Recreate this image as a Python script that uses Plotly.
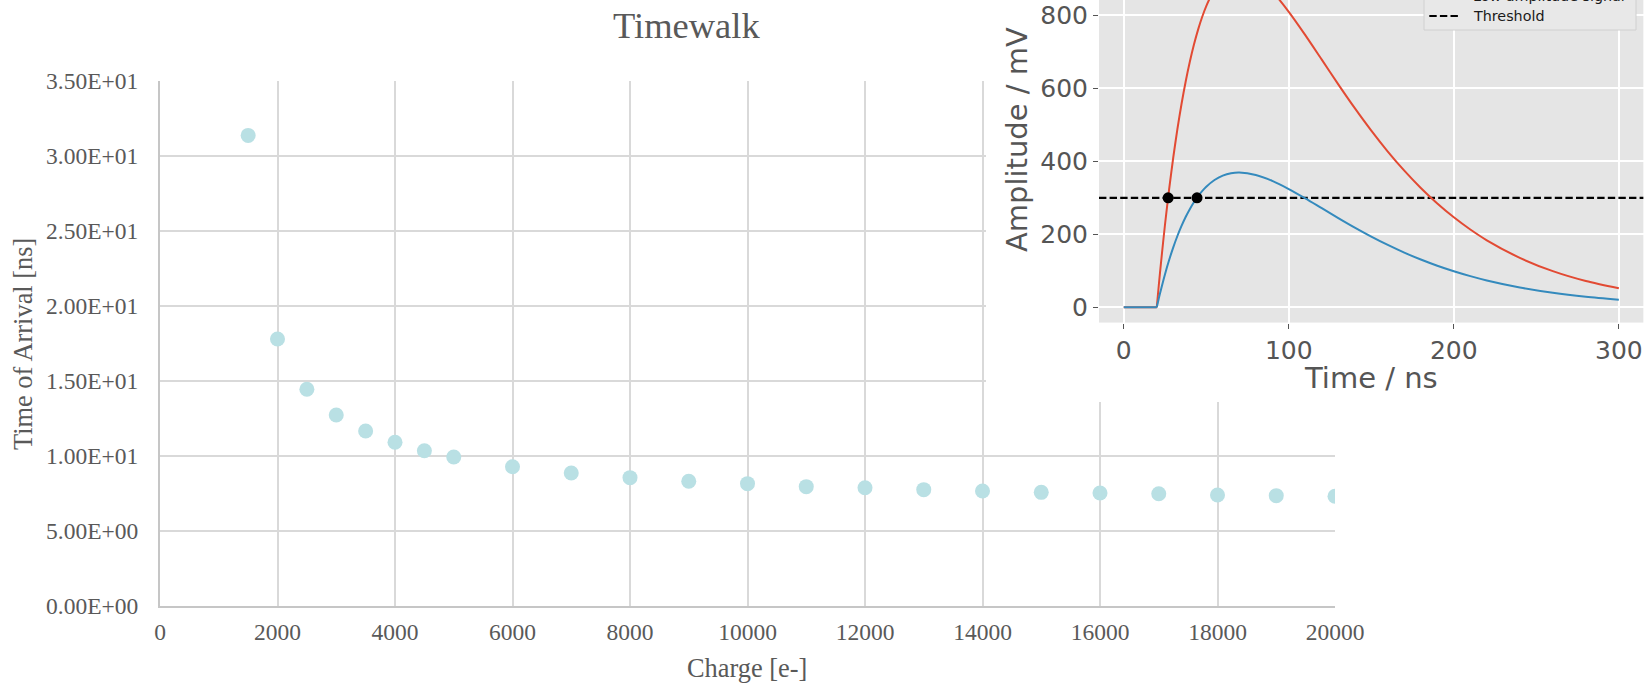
import plotly.graph_objects as go

W, H = 1651, 683

# ---- Timewalk scan: collected charge vs. time of arrival ----
charge_e = [1500, 2000, 2500, 3000, 3500, 4000, 4500, 5000, 6000, 7000, 8000, 9000,
            10000, 11000, 12000, 13000, 14000, 15000, 16000, 17000, 18000, 19000, 20000]
toa_ns = [31.37, 17.78, 14.43, 12.71, 11.64, 10.89, 10.33, 9.91, 9.26, 8.84, 8.53, 8.29,
          8.13, 7.93, 7.86, 7.73, 7.64, 7.55, 7.51, 7.46, 7.37, 7.33, 7.29]

toa_tickvals = [0, 5, 10, 15, 20, 25, 30, 35]
toa_ticktext = ["0.00E+00", "5.00E+00", "1.00E+01", "1.50E+01",
                "2.00E+01", "2.50E+01", "3.00E+01", "3.50E+01"]
charge_tickvals = [0, 2000, 4000, 6000, 8000, 10000, 12000, 14000, 16000, 18000, 20000]

# ---- Example pulses for the threshold illustration ----
pulse_t_ns = [0, 20, 21.25, 22.5, 25, 27.5, 30, 32.5, 35, 37.5, 40, 42.5, 45, 47.5, 50,
              55, 60, 65, 70, 80, 90, 100, 110, 120, 130, 140, 150, 160, 170, 180, 190,
              200, 210, 220, 240, 260, 280, 300]
high_signal_mv = [0, 0, 61.1, 119.2, 226.8, 323.6, 410.4, 488.0, 557.0, 618.1, 672.0,
                  719.2, 760.1, 795.3, 825.3, 871.2, 900.9, 917.1, 922.0, 905.9, 865.2,
                  809.6, 745.7, 678.4, 610.9, 545.6, 484.0, 426.7, 374.3, 326.9, 284.4,
                  246.5, 213.1, 183.6, 135.4, 99.0, 71.9, 51.9]
low_signal_mv = [0, 0, 24.5, 47.7, 90.8, 129.5, 164.2, 195.3, 222.9, 247.4, 268.9,
                 287.8, 304.2, 318.3, 330.3, 348.7, 360.6, 367.0, 369.0, 362.5, 346.3,
                 324.0, 298.4, 271.5, 244.5, 218.4, 193.7, 170.8, 149.8, 130.8, 113.8,
                 98.7, 85.3, 73.5, 54.2, 39.6, 28.8, 20.8]
pulse_start_idx = 1  # baseline ends / pulse begins at this sample
threshold_mv = 300
crossing_t_ns = [26.9, 44.4]
crossing_mv = [300, 300]

legend_labels = ["High amplitude signal", "Low amplitude signal", "Threshold"]

# inset axis ranges
T_RANGE = [-15, 315]
MV_RANGE = [-42.2, 841.9]

RED = "#E24A33"
BLUE = "#348ABD"
SERIF = "Liberation Serif"
SANS = "DejaVu Sans"
XL_TEXT = "#595959"
MPL_TEXT = "#555555"
DASH = "7.4px,3.2px"


def px(x):
    return x / W


def py(y):
    return 1 - y / H


fig = go.Figure()

# main scatter
fig.add_trace(go.Scatter(
    x=charge_e, y=toa_ns, mode="markers", xaxis="x", yaxis="y",
    marker=dict(size=15, color="#B9E0E4", line=dict(width=0)),
    showlegend=False, hoverinfo="skip"))

# empty subplot whose background masks the main grid behind the inset
fig.add_trace(go.Scatter(x=[None], y=[None], xaxis="x2", yaxis="y2",
                         showlegend=False, hoverinfo="skip"))

# inset pulses: flat baseline (linear) + smooth pulse body (spline)
s = pulse_start_idx
for values, color, name in [(high_signal_mv, RED, legend_labels[0]),
                            (low_signal_mv, BLUE, legend_labels[1])]:
    fig.add_trace(go.Scatter(x=pulse_t_ns[:s + 1], y=values[:s + 1], mode="lines",
                             xaxis="x3", yaxis="y3", name=name, showlegend=False,
                             line=dict(color=color, width=2)))
    fig.add_trace(go.Scatter(x=pulse_t_ns[s:], y=values[s:], mode="lines",
                             xaxis="x3", yaxis="y3", name=name, showlegend=False,
                             line=dict(color=color, width=2, shape="spline",
                                       smoothing=0.8)))
fig.add_trace(go.Scatter(x=crossing_t_ns, y=crossing_mv, mode="markers",
                         xaxis="x3", yaxis="y3", showlegend=False,
                         marker=dict(size=11, color="black")))

shapes = []
# inset panel background
shapes.append(dict(type="rect", xref="x3", yref="y3",
                   x0=T_RANGE[0], x1=T_RANGE[1], y0=MV_RANGE[0], y1=MV_RANGE[1],
                   fillcolor="#E5E5E5", line=dict(width=0), layer="below"))
# threshold line across the inset axes
shapes.append(dict(type="line", xref="x3", yref="y3", x0=T_RANGE[0], x1=T_RANGE[1],
                   y0=threshold_mv, y1=threshold_mv, layer="between",
                   line=dict(color="black", width=2.2, dash=DASH)))
# legend frame
shapes.append(dict(type="rect", xref="paper", yref="paper",
                   x0=px(1424), x1=px(1636), y0=py(30), y1=py(-70),
                   fillcolor="#E8E8E8", line=dict(color="#D0D0D0", width=1), layer="above"))
legend_rows_y = [-23.2, -3.6, 16.0]
legend_styles = [dict(color=RED, width=2), dict(color=BLUE, width=2),
                 dict(color="black", width=2.2, dash=DASH)]
for yy, st in zip(legend_rows_y, legend_styles):
    shapes.append(dict(type="line", xref="paper", yref="paper", layer="above",
                       x0=px(1429.3), x1=px(1459.3), y0=py(yy), y1=py(yy), line=st))

annotations = []
annotations.append(dict(text="Timewalk", x=px(686), y=py(25), xref="paper", yref="paper",
                        showarrow=False, xanchor="center", yanchor="middle",
                        font=dict(family=SERIF, size=36.5, color=XL_TEXT)))
annotations.append(dict(text="Charge [e-]", x=px(747), y=py(668), xref="paper", yref="paper",
                        showarrow=False, xanchor="center", yanchor="middle",
                        font=dict(family=SERIF, size=26.4, color=XL_TEXT)))
annotations.append(dict(text="Time of Arrival [ns]", x=px(23), y=py(344), xref="paper",
                        yref="paper", showarrow=False, textangle=-90,
                        xanchor="center", yanchor="middle",
                        font=dict(family=SERIF, size=26.4, color=XL_TEXT)))
annotations.append(dict(text="Amplitude / mV", x=px(1017), y=py(140), xref="paper",
                        yref="paper", showarrow=False, textangle=-90,
                        xanchor="center", yanchor="middle",
                        font=dict(family=SANS, size=29, color=MPL_TEXT)))
annotations.append(dict(text="Time / ns", x=px(1371), y=py(378), xref="paper", yref="paper",
                        showarrow=False, xanchor="center", yanchor="middle",
                        font=dict(family=SANS, size=29, color=MPL_TEXT)))
for yy, lab in zip(legend_rows_y, legend_labels):
    annotations.append(dict(text=lab, x=px(1471), y=py(yy), xref="paper", yref="paper",
                            showarrow=False, xanchor="left", yanchor="middle",
                            font=dict(family=SANS, size=14.3, color="#1a1a1a")))

grid_main = "#D9D9D9"
fig.update_layout(
    width=W, height=H,
    margin=dict(l=0, r=0, t=0, b=0, autoexpand=False),
    paper_bgcolor="white", plot_bgcolor="white",
    showlegend=False,
    xaxis=dict(domain=[px(160), px(1335)], range=[0, 20000], anchor="y", automargin=False,
               tickvals=charge_tickvals, tickformat="d",
               showgrid=True, gridcolor=grid_main, gridwidth=2,
               showline=True, linecolor="#C6C6C6", linewidth=2, zeroline=False,
               ticks="", ticklabelstandoff=4,
               tickfont=dict(family=SERIF, size=23.5, color=XL_TEXT)),
    yaxis=dict(domain=[py(605.5), py(81)], range=[0, 35], anchor="x", automargin=False,
               tickvals=toa_tickvals, ticktext=toa_ticktext,
               showgrid=True, gridcolor=grid_main, gridwidth=2,
               showline=True, linecolor="#C6C6C6", linewidth=2, zeroline=False,
               ticks="", ticklabelstandoff=15,
               tickfont=dict(family=SERIF, size=23.5, color=XL_TEXT)),
    xaxis2=dict(domain=[px(986), 1], anchor="y2", range=[0, 1], visible=False,
                automargin=False),
    yaxis2=dict(domain=[py(402), 1], anchor="x2", range=[0, 1], visible=False,
                automargin=False),
    xaxis3=dict(domain=[px(1099), px(1643.6)], range=T_RANGE, anchor="y3", automargin=False,
                tickvals=[0, 100, 200, 300], showgrid=True, gridcolor="white", gridwidth=1.8,
                zeroline=False, showline=False, ticks="outside", ticklen=5, tickwidth=1.3,
                tickcolor=MPL_TEXT, ticklabelstandoff=0,
                tickfont=dict(family=SANS, size=25, color=MPL_TEXT)),
    yaxis3=dict(domain=[py(322.7), 1], range=MV_RANGE, anchor="x3", automargin=False,
                tickvals=[0, 200, 400, 600, 800], showgrid=True, gridcolor="white",
                gridwidth=1.8, zeroline=False, showline=False, ticks="outside", ticklen=5,
                tickwidth=1.3, tickcolor=MPL_TEXT, ticklabelstandoff=0,
                tickfont=dict(family=SANS, size=25, color=MPL_TEXT)),
    shapes=shapes,
    annotations=annotations,
)

fig.write_html("out.html")
